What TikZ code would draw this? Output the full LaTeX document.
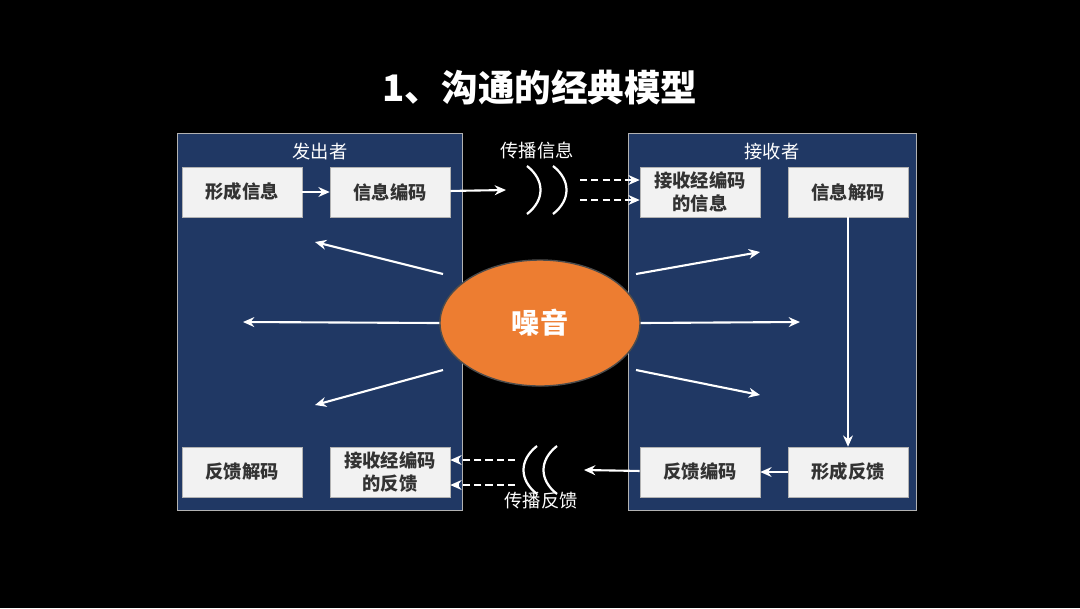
\documentclass[tikz,border=0pt]{standalone}
\usepackage{fontspec}
\setmainfont{Noto Sans CJK SC}
\usetikzlibrary{shapes.geometric,arrows.meta}
\definecolor{panel}{HTML}{203864}
\definecolor{boxc}{HTML}{F2F2F2}
\definecolor{orng}{HTML}{ED7D31}
\tikzset{
 box/.style={fill=boxc,draw=gray!60,minimum width=3.0cm,minimum height=1.25cm,font=\bfseries\fontsize{13}{16}\selectfont,text=black!80,align=center,inner sep=1pt},
 pnl/.style={fill=panel,draw=gray!60,line width=0.4pt},
 arr/.style={draw=white,line width=1.5pt,-{Stealth[length=8pt,width=7pt]}},
 darr/.style={arr,dashed,dash pattern=on 5pt off 3pt},
 lbl/.style={text=white,font=\fontsize{13}{14}\selectfont},
 wave/.style={draw=white,line width=1.6pt}
}
\begin{document}
\begin{tikzpicture}[x=0.025cm,y=-0.025cm]
\fill[black] (0,0) rectangle (1080,608);
\useasboundingbox (0,0) rectangle (1080,608);
\node[text=white,font=\bfseries\fontsize{26}{28}\selectfont] (title) at (540,88) {1、沟通的经典模型};
\path[pnl] (177,133) rectangle (462,510);
\path[pnl] (628,133) rectangle (916,510);
\node[lbl] (s) at (320,152) {发出者};
\node[lbl] (r) at (772,152) {接收者};
\node[box] (a) at (242,192) {形成信息};
\node[box] (b) at (390,192) {信息编码};
\node[box] (c) at (700,192) {接收经编码\\的信息};
\node[box] (d) at (848,192) {信息解码};
\node[box] (e) at (242,472) {反馈解码};
\node[box] (f) at (390,472) {接收经编码\\的反馈};
\node[box] (g) at (700,472) {反馈编码};
\node[box] (h) at (848,472) {形成反馈};
\node[lbl] (t1) at (537,150) {传播信息};
\node[lbl] (t2) at (541,501) {传播反馈};
\draw[wave] (527,166) .. controls (545,180) and (545,200) .. (527,214);
\draw[wave] (553,166) .. controls (571,180) and (571,200) .. (553,214);
\draw[wave] (537,446) .. controls (519,460) and (519,480) .. (537,494);
\draw[wave] (557,446) .. controls (539,460) and (539,480) .. (557,494);
\coordinate (p1) at (506,190);
\coordinate (q1) at (580,180); \coordinate (q2) at (580,200);
\coordinate (p2) at (584,470);
\coordinate (q3) at (515,460); \coordinate (q4) at (515,485);
\draw[arr] (a) -- (b);
\draw[arr] (b) -- (p1);
\draw[darr] (q1) -- (c.west|-q1);
\draw[darr] (q2) -- (c.west|-q2);
\draw[arr] (d) -- (h);
\draw[arr] (h) -- (g);
\draw[arr] (g) -- (p2);
\draw[darr] (q3) -- (f.east|-q3);
\draw[darr] (q4) -- (f.east|-q4);
\node[ellipse,fill=orng,draw=black!70,line width=1pt,minimum width=5cm,minimum height=3.15cm,text=white,font=\bfseries\fontsize{20}{22}\selectfont] (n) at (540,323) {噪音};
\coordinate (l1) at (315,242); \coordinate (l2) at (243,322); \coordinate (l3) at (315,405);
\coordinate (r1) at (760,252); \coordinate (r2) at (800,322); \coordinate (r3) at (760,395);
\draw[arr] (443,274) -- (l1);
\draw[arr] (n.west) -- (l2);
\draw[arr] (443,370) -- (l3);
\draw[arr] (636,274) -- (r1);
\draw[arr] (n.east) -- (r2);
\draw[arr] (636,370) -- (r3);
\end{tikzpicture}
\end{document}
